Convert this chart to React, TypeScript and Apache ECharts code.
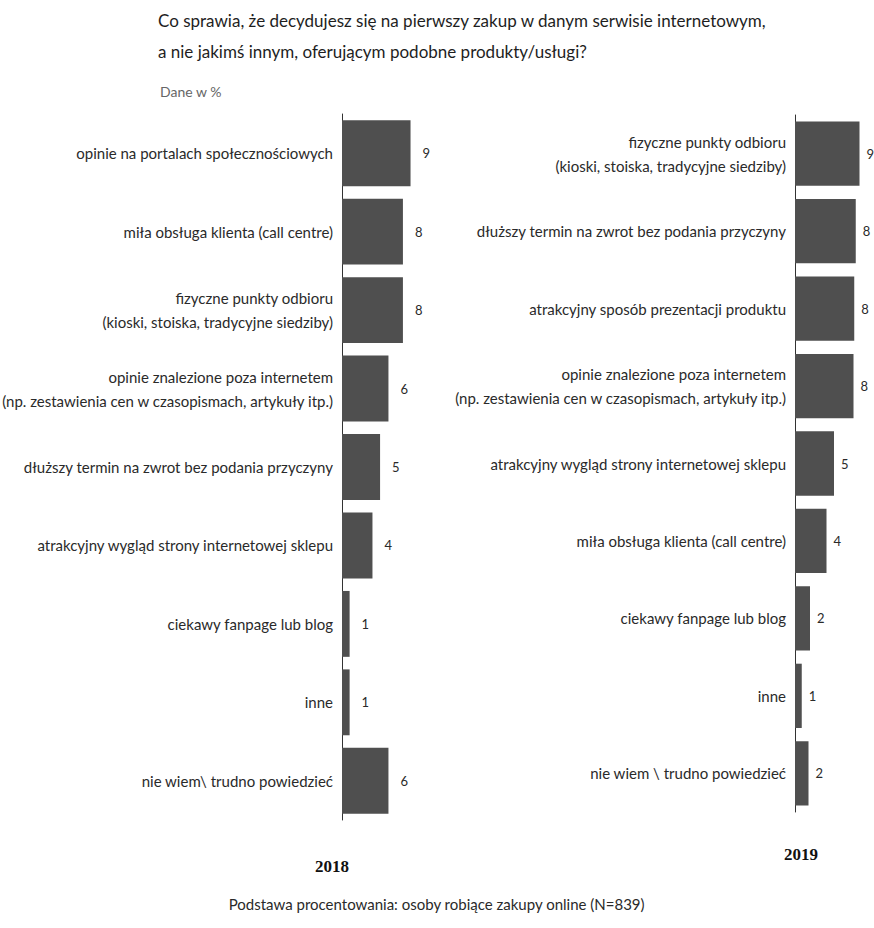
import React, { useEffect, useRef } from "react";
import * as echarts from "echarts";

const categories2018 = [
  "opinie na portalach społecznościowych",
  "miła obsługa klienta (call centre)",
  "fizyczne punkty odbioru\n(kioski, stoiska, tradycyjne siedziby)",
  "opinie znalezione poza internetem\n(np. zestawienia cen w czasopismach, artykuły itp.)",
  "dłuższy termin na zwrot bez podania przyczyny",
  "atrakcyjny wygląd strony internetowej sklepu",
  "ciekawy fanpage lub blog",
  "inne",
  "nie wiem\\ trudno powiedzieć",
];
const values2018 = [9, 8, 8, 6.1, 5, 4, 1, 1, 6.1];

const categories2019 = [
  "fizyczne punkty odbioru\n(kioski, stoiska, tradycyjne siedziby)",
  "dłuższy termin na zwrot bez podania przyczyny",
  "atrakcyjny sposób prezentacji produktu",
  "opinie znalezione poza internetem\n(np. zestawienia cen w czasopismach, artykuły itp.)",
  "atrakcyjny wygląd strony internetowej sklepu",
  "miła obsługa klienta (call centre)",
  "ciekawy fanpage lub blog",
  "inne",
  "nie wiem \\ trudno powiedzieć",
];
const values2019 = [8.6, 8.1, 7.9, 7.8, 5.2, 4.2, 2.0, 0.9, 1.8];

const FONT = "Lato, 'DejaVu Sans Condensed', sans-serif";
const BAR = "#4f4f4f";
const TXT = "#2a2a2a";

export default function App() {
  const ref = useRef<HTMLDivElement>(null);
  useEffect(() => {
    if (!ref.current) return;
    const chart = echarts.init(ref.current, null, { renderer: "svg" });
    const yAxisCommon = {
      type: "category" as const,
      inverse: true,
      axisTick: { show: false },
      axisLine: { show: true, lineStyle: { color: "#333", width: 1 } },
      axisLabel: {
        color: TXT,
        fontFamily: FONT,
        fontSize: 15,
        lineHeight: 24,
        margin: 9,
        align: "right" as const,
      },
    };
    const xAxisCommon = {
      type: "value" as const,
      min: 0,
      show: false,
      splitLine: { show: false },
    };
    const labelCommon = {
      show: true,
      position: "right" as const,
      color: TXT,
      fontFamily: FONT,
      fontSize: 13,
      formatter: (p: any) => String(Math.round(p.value)),
    };
    chart.setOption({
      animation: false,
      grid: [
        { left: 342, top: 114, width: 99, height: 706, containLabel: false, outerBoundsMode: "none" },
        { left: 795, top: 115, width: 75, height: 697, containLabel: false, outerBoundsMode: "none" },
      ],
      xAxis: [
        { ...xAxisCommon, gridIndex: 0, max: 13 },
        { ...xAxisCommon, gridIndex: 1, max: 10 },
      ],
      yAxis: [
        { ...yAxisCommon, gridIndex: 0, data: categories2018 },
        { ...yAxisCommon, gridIndex: 1, data: categories2019 },
      ],
      series: [
        {
          type: "bar",
          xAxisIndex: 0,
          yAxisIndex: 0,
          data: values2018,
          barCategoryGap: "16%",
          itemStyle: { color: BAR },
          label: { ...labelCommon, distance: 12 },
        },
        {
          type: "bar",
          xAxisIndex: 1,
          yAxisIndex: 1,
          data: values2019,
          barCategoryGap: "17%",
          itemStyle: { color: BAR },
          label: { ...labelCommon, distance: 7 },
        },
      ],
      graphic: [
        {
          type: "text",
          left: 158,
          top: 5,
          style: {
            text: "Co sprawia, że decydujesz się na pierwszy zakup w danym serwisie internetowym,\na nie jakimś innym, oferującym podobne produkty/usługi?",
            fontFamily: FONT,
            fontSize: 17,
            lineHeight: 31,
            fill: "#1e1e1e",
          },
        },
        {
          type: "text",
          left: 160,
          top: 84,
          style: { text: "Dane w %", fontFamily: FONT, fontSize: 14, fill: "#666" },
        },
        {
          type: "text",
          left: 315,
          top: 858,
          style: { text: "2018", fontFamily: "'Liberation Serif', serif", fontWeight: "bold", fontSize: 17, fill: "#111" },
        },
        {
          type: "text",
          left: 784,
          top: 846,
          style: { text: "2019", fontFamily: "'Liberation Serif', serif", fontWeight: "bold", fontSize: 17, fill: "#111" },
        },
        {
          type: "text",
          left: "center",
          top: 896,
          style: {
            text: "Podstawa procentowania: osoby robiące zakupy online (N=839)",
            fontFamily: FONT,
            fontSize: 15,
            fill: TXT,
          },
        },
      ],
    });
    return () => chart.dispose();
  }, []);
  return (
    <div
      ref={ref}
      style={{ position: "absolute", left: 0, top: 0, width: 874, height: 928, background: "#fff" }}
    />
  );
}
